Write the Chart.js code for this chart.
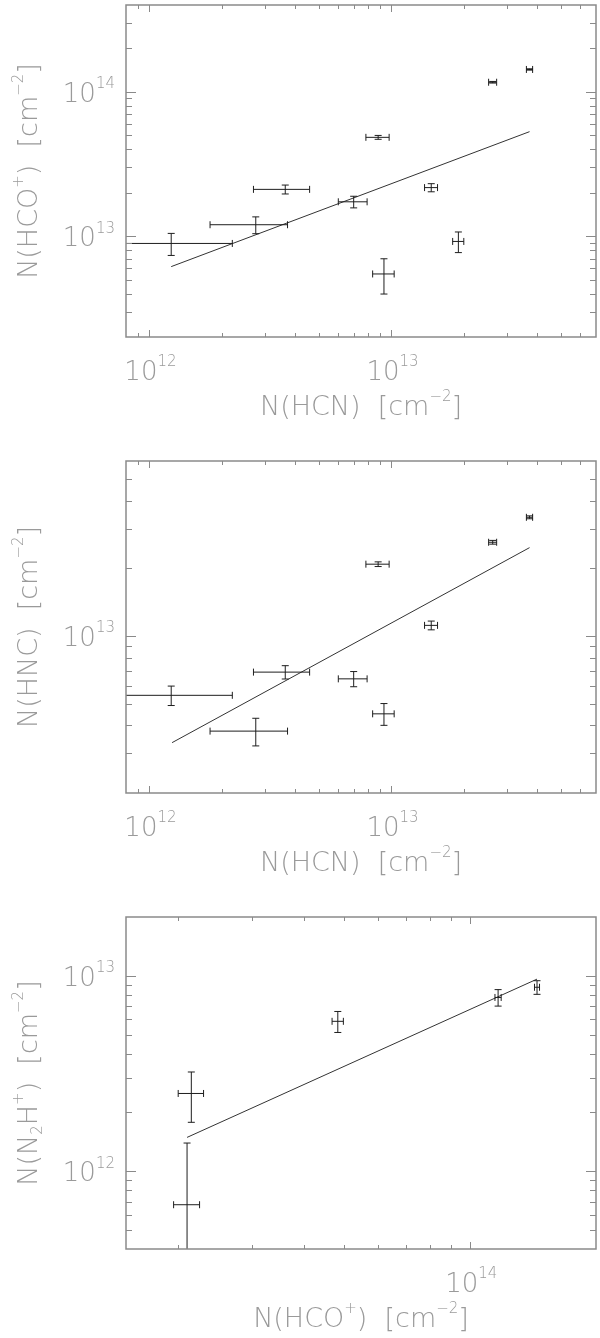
<!DOCTYPE html>
<html>
<head>
<meta charset="utf-8">
<script src="https://cdn.jsdelivr.net/npm/chart.js@4.4.1/dist/chart.umd.min.js"></script>
<style>
    html, body { margin: 0; padding: 0; background: #ffffff; }
    canvas { display: block; }
</style>
</head>
<body>
<canvas id="painelHco" width="600" height="456"></canvas>
<canvas id="painelHnc" width="600" height="456"></canvas>
<canvas id="painelN2h" width="600" height="426"></canvas>
<script>
(function() {
    'use strict';

    // Painel 1: N(HCO+) contra N(HCN)
    const hcnP1 = [1.23e12, 2.75e12, 3.64e12, 6.98e12, 8.81e12, 9.31e12, 1.46e13, 1.89e13, 2.62e13, 3.72e13];
    const hcnErrP1 = [0.97e12, 0.97e12, 0.95e12, 0.95e12, 0.97e12, 0.95e12, 0.90e12, 1.0e12, 1.0e12, 1.1e12];
    const hcoP1 = [8.9e12, 1.20e13, 2.11e13, 1.73e13, 4.84e13, 5.47e12, 2.17e13, 9.19e12, 1.166e14, 1.43e14];
    const hcoErrP1 = [1.55e12, 1.6e12, 1.5e12, 1.6e12, 1.5e12, 1.5e12, 1.4e12, 1.5e12, 1.5e12, 1.5e12];
    const ajusteXP1 = [1.23e12, 3.72e13];
    const ajusteYP1 = [6.15e12, 5.30e13];
    const eixoXP1 = [8e11, 7e13];
    const eixoYP1 = [2e12, 4e14];
    const marcasXP1 = [1e12, 1e13];
    const marcasYP1 = [1e13, 1e14];

    // Painel 2: N(HNC) contra N(HCN)
    const hcnP2 = [1.23e12, 2.75e12, 3.64e12, 6.98e12, 8.81e12, 9.31e12, 1.46e13, 2.62e13, 3.72e13];
    const hcnErrP2 = [0.97e12, 0.97e12, 0.95e12, 0.95e12, 0.97e12, 0.95e12, 0.90e12, 1.0e12, 1.1e12];
    const hncP2 = [5.44e12, 3.77e12, 6.90e12, 6.44e12, 2.085e13, 4.50e12, 1.114e13, 2.61e13, 3.37e13];
    const hncErrP2 = [0.54e12, 0.53e12, 0.47e12, 0.5e12, 0.5e12, 0.5e12, 0.5e12, 0.5e12, 0.5e12];
    const ajusteXP2 = [1.24e12, 3.72e13];
    const ajusteYP2 = [3.35e12, 2.47e13];
    const eixoXP2 = [8e11, 7e13];
    const eixoYP2 = [2e12, 6e13];
    const marcasXP2 = [1e12, 1e13];
    const marcasYP2 = [1e13];

    // Painel 3: N(N2H+) contra N(HCO+)
    const hcoP3 = [2.10e13, 2.15e13, 4.82e13, 1.166e14, 1.445e14];
    const hcoErrP3 = [1.5e12, 1.5e12, 1.5e12, 2.0e12, 2.0e12];
    const n2hP3 = [6.74e11, 2.50e12, 5.85e12, 7.75e12, 8.74e12];
    const n2hErrP3 = [0.72e12, 0.72e12, 0.72e12, 0.75e12, 0.7e12];
    const ajusteXP3 = [2.10e13, 1.445e14];
    const ajusteYP3 = [1.49e12, 9.62e12];
    const eixoXP3 = [1.5e13, 2e14];
    const eixoYP3 = [4e11, 2e13];
    const marcasXP3 = [1e14];
    const marcasYP3 = [1e12, 1e13];

    // Títulos dos eixos (partes com sobrescrito/subscrito)
    const tituloHcn = [{ t: 'N(HCN)  [cm' }, { t: '\u22122', sup: true }, { t: ']' }];
    const tituloHco = [{ t: 'N(HCO' }, { t: '+', sup: true }, { t: ')  [cm' }, { t: '\u22122', sup: true }, { t: ']' }];
    const tituloHnc = [{ t: 'N(HNC)  [cm' }, { t: '\u22122', sup: true }, { t: ']' }];
    const tituloN2h = [{ t: 'N(N' }, { t: '2', sub: true }, { t: 'H' }, { t: '+', sup: true }, { t: ')  [cm' }, { t: '\u22122', sup: true }, { t: ']' }];

    const FONTE = '"DejaVu Sans", "Liberation Sans", sans-serif';
    const COR_TEXTO = '#9a9a9a';
    const COR_EIXO = '#8a8a8a';
    const COR_DADOS = '#1e1e1e';

    // Escreve texto com sobrescritos e subscritos
    function textoRico(ctx, partes, x, y, tam, alinhar) {
        const menor = Math.round(tam * 0.56);
        const larguras = partes.map(function(p) {
            ctx.font = '200 ' + (p.sup || p.sub ? menor : tam) + 'px ' + FONTE;
            return ctx.measureText(p.t).width;
        });
        const total = larguras.reduce(function(a, b) { return a + b; }, 0);
        let cx = x;
        if (alinhar === 'center') cx = x - total / 2;
        if (alinhar === 'right') cx = x - total;
        partes.forEach(function(p, i) {
            ctx.font = '200 ' + (p.sup || p.sub ? menor : tam) + 'px ' + FONTE;
            let dy = 0;
            if (p.sup) dy = -tam * 0.52;
            if (p.sub) dy = tam * 0.2;
            ctx.fillText(p.t, cx, y + dy);
            cx += larguras[i];
        });
    }

    // Marcas menores de 1 a 9 por década, dentro do intervalo
    function marcasMenores(faixa, maiores) {
        const lista = [];
        const k0 = Math.floor(Math.log10(faixa[0]));
        const k1 = Math.ceil(Math.log10(faixa[1]));
        for (let k = k0; k <= k1; k++) {
            for (let m = 1; m <= 9; m++) {
                const v = m * Math.pow(10, k);
                const ehMaior = maiores.some(function(t) { return Math.abs(t - v) / v < 1e-6; });
                if (v > faixa[0] * 1.001 && v < faixa[1] * 0.999 && !ehMaior) lista.push(v);
            }
        }
        return lista;
    }

    function rotuloPotencia(v) {
        return [{ t: '10' }, { t: String(Math.round(Math.log10(v))), sup: true }];
    }

    // Moldura: caixa, marcas nos quatro lados, rótulos e títulos
    function criarMoldura(painel) {
        return {
            id: 'moldura',
            afterDraw: function(chart) {
                const ctx = chart.ctx;
                const a = chart.chartArea;
                const sx = chart.scales.x;
                const sy = chart.scales.y;

                ctx.save();
                ctx.strokeStyle = COR_EIXO;
                ctx.lineWidth = 1.5;
                ctx.strokeRect(a.left, a.top, a.right - a.left, a.bottom - a.top);

                ctx.lineWidth = 1;
                ctx.beginPath();
                // eixo x (baixo e cima)
                const menoresX = marcasMenores(painel.eixoX, painel.marcasX);
                painel.marcasX.concat(menoresX).forEach(function(v) {
                    const px = Math.round(sx.getPixelForValue(v)) + 0.5;
                    const len = painel.marcasX.indexOf(v) >= 0 ? 7 : 4;
                    ctx.moveTo(px, a.bottom);
                    ctx.lineTo(px, a.bottom - len);
                    ctx.moveTo(px, a.top);
                    ctx.lineTo(px, a.top + len);
                });
                // eixo y (esquerda e direita)
                const menoresY = marcasMenores(painel.eixoY, painel.marcasY);
                painel.marcasY.concat(menoresY).forEach(function(v) {
                    const py = Math.round(sy.getPixelForValue(v)) + 0.5;
                    const len = painel.marcasY.indexOf(v) >= 0 ? 10 : 6;
                    ctx.moveTo(a.left, py);
                    ctx.lineTo(a.left + len, py);
                    ctx.moveTo(a.right, py);
                    ctx.lineTo(a.right - len, py);
                });
                ctx.stroke();

                ctx.fillStyle = COR_TEXTO;
                ctx.textBaseline = 'alphabetic';
                ctx.textAlign = 'left';

                painel.marcasX.forEach(function(v) {
                    textoRico(ctx, rotuloPotencia(v), sx.getPixelForValue(v) + 1, a.bottom + 43, 26, 'center');
                });
                painel.marcasY.forEach(function(v) {
                    textoRico(ctx, rotuloPotencia(v), a.left - 11, sy.getPixelForValue(v) + 10, 26, 'right');
                });

                textoRico(ctx, painel.tituloX, (a.left + a.right) / 2, a.bottom + 78, 27, 'center');

                ctx.translate(37, (a.top + a.bottom) / 2);
                ctx.rotate(-Math.PI / 2);
                textoRico(ctx, painel.tituloY, 0, 0, 27, 'center');
                ctx.restore();
            }
        };
    }

    // Barras de erro em x e y, recortadas na área do gráfico
    const barrasErro = {
        id: 'barrasErro',
        afterDatasetsDraw: function(chart) {
            const ds = chart.data.datasets[0];
            const ctx = chart.ctx;
            const a = chart.chartArea;
            const sx = chart.scales.x;
            const sy = chart.scales.y;
            const capa = 3.5;

            ctx.save();
            ctx.beginPath();
            ctx.rect(a.left, a.top, a.right - a.left, a.bottom - a.top);
            ctx.clip();
            ctx.strokeStyle = COR_DADOS;
            ctx.lineWidth = 1;
            ctx.beginPath();
            ds.data.forEach(function(p, i) {
                const ex = ds.xErr[i];
                const ey = ds.yErr[i];
                const px = sx.getPixelForValue(p.x);
                const py = sy.getPixelForValue(p.y);
                const xEsq = p.x - ex > 0 ? sx.getPixelForValue(p.x - ex) : a.left - 20;
                const xDir = sx.getPixelForValue(p.x + ex);
                const yBaixo = p.y - ey > 0 ? sy.getPixelForValue(p.y - ey) : a.bottom + 20;
                const yCima = sy.getPixelForValue(p.y + ey);

                ctx.moveTo(xEsq, py);
                ctx.lineTo(xDir, py);
                ctx.moveTo(xEsq, py - capa);
                ctx.lineTo(xEsq, py + capa);
                ctx.moveTo(xDir, py - capa);
                ctx.lineTo(xDir, py + capa);

                ctx.moveTo(px, yCima);
                ctx.lineTo(px, yBaixo);
                ctx.moveTo(px - capa, yCima);
                ctx.lineTo(px + capa, yCima);
                ctx.moveTo(px - capa, yBaixo);
                ctx.lineTo(px + capa, yBaixo);
            });
            ctx.stroke();
            ctx.restore();
        }
    };

    const Paineis = {
        charts: {},

        init: function() {
            this.criar('painelHco', {
                xs: hcnP1, xErr: hcnErrP1, ys: hcoP1, yErr: hcoErrP1,
                ajusteX: ajusteXP1, ajusteY: ajusteYP1,
                eixoX: eixoXP1, eixoY: eixoYP1, marcasX: marcasXP1, marcasY: marcasYP1,
                tituloX: tituloHcn, tituloY: tituloHco, baixo: 119
            });
            this.criar('painelHnc', {
                xs: hcnP2, xErr: hcnErrP2, ys: hncP2, yErr: hncErrP2,
                ajusteX: ajusteXP2, ajusteY: ajusteYP2,
                eixoX: eixoXP2, eixoY: eixoYP2, marcasX: marcasXP2, marcasY: marcasYP2,
                tituloX: tituloHcn, tituloY: tituloHnc, baixo: 119
            });
            this.criar('painelN2h', {
                xs: hcoP3, xErr: hcoErrP3, ys: n2hP3, yErr: n2hErrP3,
                ajusteX: ajusteXP3, ajusteY: ajusteYP3,
                eixoX: eixoXP3, eixoY: eixoYP3, marcasX: marcasXP3, marcasY: marcasYP3,
                tituloX: tituloHco, tituloY: tituloN2h, baixo: 89
            });
        },

        criar: function(id, painel) {
            const ctx = document.getElementById(id);
            this.charts[id] = new Chart(ctx, {
                type: 'scatter',
                data: {
                    datasets: [
                        {
                            type: 'scatter',
                            data: painel.xs.map(function(x, i) { return { x: x, y: painel.ys[i] }; }),
                            xErr: painel.xErr,
                            yErr: painel.yErr,
                            pointRadius: 0,
                            pointHoverRadius: 0
                        },
                        {
                            type: 'line',
                            data: painel.ajusteX.map(function(x, i) { return { x: x, y: painel.ajusteY[i] }; }),
                            borderColor: '#333333',
                            borderWidth: 1,
                            pointRadius: 0,
                            fill: false,
                            tension: 0
                        }
                    ]
                },
                options: {
                    responsive: false,
                    animation: false,
                    devicePixelRatio: 1,
                    events: [],
                    layout: {
                        padding: { left: 126, right: 4, top: 5, bottom: painel.baixo }
                    },
                    plugins: {
                        legend: { display: false },
                        tooltip: { enabled: false }
                    },
                    scales: {
                        x: { type: 'logarithmic', display: false, min: painel.eixoX[0], max: painel.eixoX[1] },
                        y: { type: 'logarithmic', display: false, min: painel.eixoY[0], max: painel.eixoY[1] }
                    }
                },
                plugins: [barrasErro, criarMoldura(painel)]
            });
        }
    };

    Paineis.init();
})();
</script>
</body>
</html>
